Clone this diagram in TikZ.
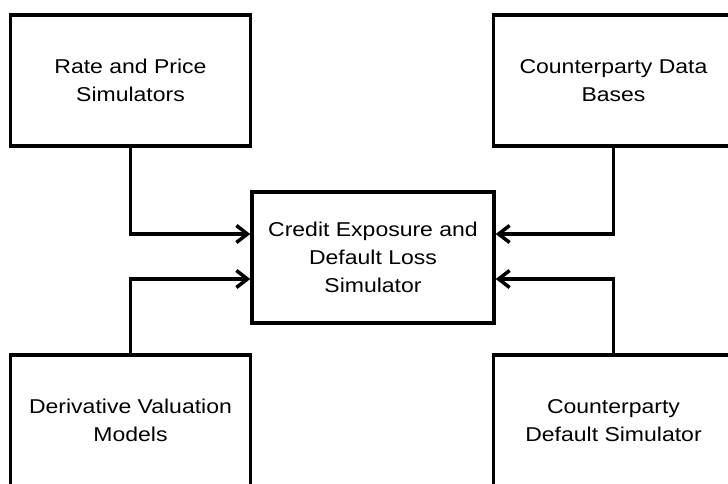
\documentclass[tikz,border=0pt]{standalone}
\usepackage{fontspec}
\setmainfont{Liberation Sans}[FakeStretch=1.15]
\usetikzlibrary{arrows.meta}
\tikzset{
    simbox/.style={draw, line width=3.5pt, minimum width=240pt, minimum height=131pt,
                   align=center, font=\fontsize{20}{28}\selectfont},
    feed/.style={line width=3.5pt, -{Straight Barb[length=11pt,width=17pt]}}
}

\begin{document}
\begin{tikzpicture}[x=1pt, y=-1pt]
    \useasboundingbox (0,0) rectangle (728,484);
    \clip (0,0) rectangle (728,484);
    % Draw boxes
    \node (rate) [simbox] at (130.5,80.5) {Rate and Price\\Simulators};
    \node (cpdata) [simbox] at (613.5,80.5) {Counterparty Data\\Bases};
    \node (loss) [simbox, minimum width=242pt] at (373,257.5) {Credit Exposure and\\Default Loss\\Simulator};
    \node (deriv) [simbox] at (130.5,420.5) {Derivative Valuation\\Models};
    \node (cpdef) [simbox] at (613.5,420.5) {Counterparty\\Default Simulator};
    % Draw feeds into the loss simulator
    \draw [feed] (rate.south) |- ([yshift=23.5pt]loss.west);
    \draw [feed] (deriv.north) |- ([yshift=-21.5pt]loss.west);
    \draw [feed] (cpdata.south) |- ([yshift=23.5pt]loss.east);
    \draw [feed] (cpdef.north) |- ([yshift=-21.5pt]loss.east);
\end{tikzpicture}
\end{document}
